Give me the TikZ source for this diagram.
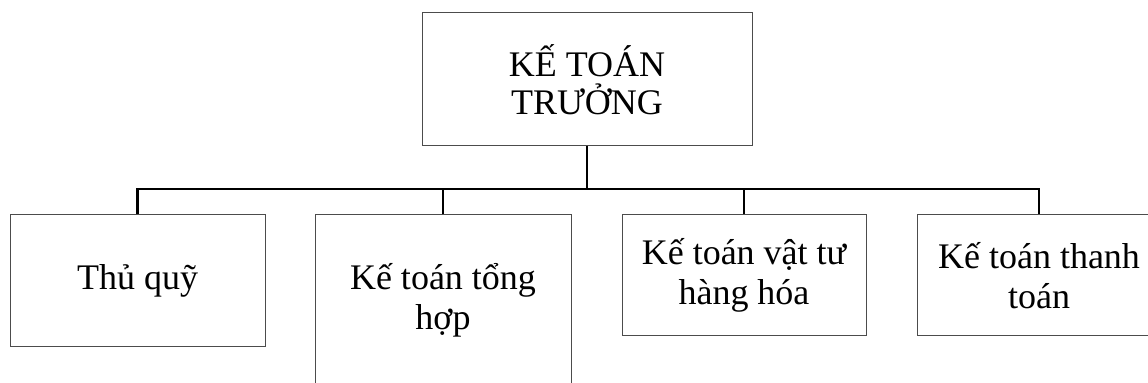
\documentclass[tikz,border=0pt]{standalone}
\usepackage{fontspec}
\setmainfont{Liberation Serif}
\usepackage{tikz}
\tikzstyle{chief}=[rectangle, draw=black!70, line width=0.5pt, inner sep=0pt, align=center, minimum width=165pt, minimum height=66.5pt, font=\fontsize{18}{19}\selectfont]
\tikzstyle{staff}=[rectangle, draw=black!70, line width=0.5pt, inner sep=0pt, align=center, font=\fontsize{18}{20}\selectfont]
\tikzstyle{link}=[line width=1.1pt]

\begin{document}
\begin{tikzpicture}[x=0.5pt, y=-0.5pt]
                    \useasboundingbox (0,0) rectangle (1148,383);
                    \node[chief] (truong) at (587, 79.5) {KẾ TOÁN\\TRƯỞNG};
                    \node[staff, minimum width=127.5pt, minimum height=66pt]   (thuquy)    at (137.5, 281)   {Thủ quỹ};
                    \node[staff, minimum width=128pt,   minimum height=85.5pt] (tonghop)   at (443,   300.5) {Kế toán tổng\\hợp};
                    \node[staff, minimum width=122pt,   minimum height=60.5pt] (vattu)     at (744,   275.5) {Kế toán vật tư\\hàng hóa};
                    \node[staff, minimum width=122pt,   minimum height=60.5pt] (thanhtoan) at (1039,  275.5) {Kế toán thanh\\toán};
                    \coordinate (bus) at (587, 189);
                    \draw[link]  (truong.south)--(bus);
                    \draw[link]  (thuquy.north) |- (bus) -| (thanhtoan.north);
                    \draw[line width=0.6pt]  (tonghop.north) -- (tonghop.north |- bus);
                    \draw[line width=0.6pt]  (vattu.north) -- (vattu.north |- bus);
                \end{tikzpicture}
\end{document}
